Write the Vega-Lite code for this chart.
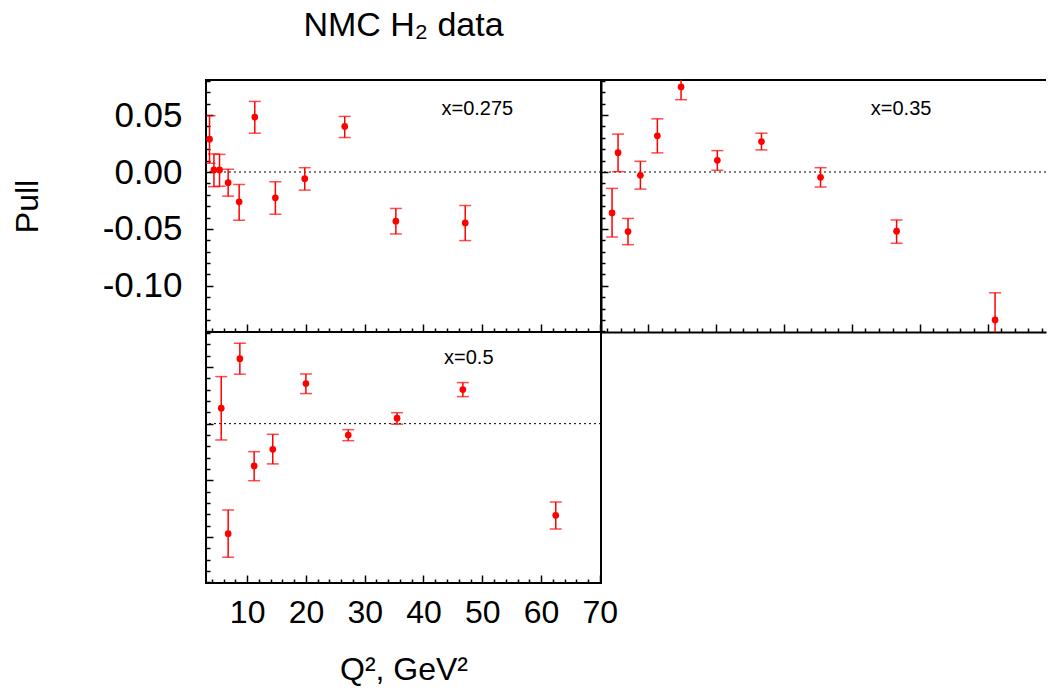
{
  "$schema": "https://vega.github.io/schema/vega-lite/v6.json",
  "background": "white",
  "padding": {"left": 10, "top": 8, "right": 0, "bottom": 0},
  "datasets": {
    "p275": [
      {"Q2": 3.6, "pull": 0.0288, "lo": 0.0077, "hi": 0.0494},
      {"Q2": 4.35, "pull": 0.0018, "lo": -0.0129, "hi": 0.0159},
      {"Q2": 5.3, "pull": 0.0018, "lo": -0.0125, "hi": 0.0155},
      {"Q2": 6.77, "pull": -0.0094, "lo": -0.0212, "hi": 0.0024},
      {"Q2": 8.64, "pull": -0.0262, "lo": -0.0423, "hi": -0.0109},
      {"Q2": 11.3, "pull": 0.0482, "lo": 0.0341, "hi": 0.062},
      {"Q2": 14.8, "pull": -0.0226, "lo": -0.037, "hi": -0.0085},
      {"Q2": 19.8, "pull": -0.0059, "lo": -0.0159, "hi": 0.0038},
      {"Q2": 26.6, "pull": 0.04, "lo": 0.0303, "hi": 0.0488},
      {"Q2": 35.3, "pull": -0.0432, "lo": -0.0544, "hi": -0.032},
      {"Q2": 47.1, "pull": -0.0447, "lo": -0.0602, "hi": -0.0294}
    ],
    "p35": [
      {"Q2": 4.7, "pull": -0.0359, "lo": -0.0571, "hi": -0.0144},
      {"Q2": 5.58, "pull": 0.017, "lo": 0.0003, "hi": 0.0333},
      {"Q2": 7.05, "pull": -0.0523, "lo": -0.0638, "hi": -0.0408},
      {"Q2": 8.87, "pull": -0.0029, "lo": -0.015, "hi": 0.0094},
      {"Q2": 11.37, "pull": 0.0318, "lo": 0.0168, "hi": 0.0467},
      {"Q2": 14.86, "pull": 0.0747, "lo": 0.0635, "hi": 0.0859},
      {"Q2": 20.2, "pull": 0.0103, "lo": 0.0015, "hi": 0.0188},
      {"Q2": 26.7, "pull": 0.0267, "lo": 0.0194, "hi": 0.0341},
      {"Q2": 35.4, "pull": -0.0047, "lo": -0.0132, "hi": 0.0038},
      {"Q2": 46.6, "pull": -0.052, "lo": -0.0626, "hi": -0.0421},
      {"Q2": 61.1, "pull": -0.1299, "lo": -0.1537, "hi": -0.1061}
    ],
    "p5": [
      {"Q2": 5.59, "pull": 0.0136, "lo": -0.0144, "hi": 0.0415},
      {"Q2": 6.77, "pull": -0.097, "lo": -0.1178, "hi": -0.0761},
      {"Q2": 8.76, "pull": 0.0573, "lo": 0.0436, "hi": 0.0709},
      {"Q2": 11.19, "pull": -0.0373, "lo": -0.0503, "hi": -0.0247},
      {"Q2": 14.36, "pull": -0.0226, "lo": -0.0355, "hi": -0.0094},
      {"Q2": 20.0, "pull": 0.0353, "lo": 0.0265, "hi": 0.0438},
      {"Q2": 27.2, "pull": -0.01, "lo": -0.015, "hi": -0.0053},
      {"Q2": 35.5, "pull": 0.0048, "lo": -0.0005, "hi": 0.0097},
      {"Q2": 46.7, "pull": 0.03, "lo": 0.0238, "hi": 0.0362},
      {"Q2": 62.5, "pull": -0.0808, "lo": -0.0929, "hi": -0.0691}
    ],
    "one": [{}]
  },
  "config": {
    "font": "Liberation Sans",
    "view": {"stroke": "black", "strokeWidth": 2},
    "axis": {"grid": false, "domain": false, "tickColor": "black", "tickWidth": 1.5, "tickCount": 200, "labelOverlap": false, "labelBound": false, "labelFlush": false, "labelFont": "Liberation Sans", "titleFont": "Liberation Sans", "labelColor": "black", "titleColor": "black", "titleFontWeight": "normal", "titleFontSize": 32},
    "concat": {"spacing": 0}
  },
  "spacing": 0,
  "bounds": "flush",
  "columns": 2,
  "concat": [
    {
      "width": 395, "height": 252,
      "title": {"text": "NMC H₂ data", "fontSize": 34, "fontWeight": "normal", "anchor": "middle", "color": "black", "offset": 37},
      "data": {"name": "p275"},
      "layer": [
        {"data": {"name": "one"}, "mark": {"type": "rule", "strokeDash": [2, 3], "color": "black", "strokeWidth": 1}, "encoding": {"y": {"datum": 0, "type": "quantitative", "title": "Pull"}}},
        {"mark": {"type": "rule", "color": "#ff0000", "strokeWidth": 1.5, "clip": true}, "encoding": {"x": {"field": "Q2", "type": "quantitative", "title": null}, "y": {"field": "lo", "type": "quantitative", "title": "Pull"}, "y2": {"field": "hi"}}},
        {"mark": {"type": "tick", "orient": "horizontal", "color": "#ff0000", "size": 12, "thickness": 1.5, "clip": true}, "encoding": {"x": {"field": "Q2", "type": "quantitative", "title": null}, "y": {"field": "lo", "type": "quantitative", "title": "Pull"}}},
        {"mark": {"type": "tick", "orient": "horizontal", "color": "#ff0000", "size": 12, "thickness": 1.5, "clip": true}, "encoding": {"x": {"field": "Q2", "type": "quantitative", "title": null}, "y": {"field": "hi", "type": "quantitative", "title": "Pull"}}},
        {"mark": {"type": "circle", "color": "#ff0000", "opacity": 1, "size": 45, "clip": true},
         "encoding": {
           "x": {"field": "Q2", "type": "quantitative", "title": null, "scale": {"domain": [3, 70.2], "nice": false, "zero": false},
                 "axis": {"values": [4,6,8,10,12,14,16,18,20,22,24,26,28,30,32,34,36,38,40,42,44,46,48,50,52,54,56,58,60,62,64,66,68,70], "labels": false, "tickSize": {"condition": {"test": "datum.value % 10 === 0", "value": -8}, "value": -4}}},
           "y": {"field": "pull", "type": "quantitative", "title": "Pull", "scale": {"domain": [-0.1405, 0.0808], "nice": false, "zero": false},
                 "axis": {"values": [-0.14,-0.13,-0.12,-0.11,-0.1,-0.09,-0.08,-0.07,-0.06,-0.05,-0.04,-0.03,-0.02,-0.01,0,0.01,0.02,0.03,0.04,0.05,0.06,0.07,0.08],
                          "tickSize": {"condition": {"test": "abs(round(datum.value*100)) % 5 === 0", "value": -7}, "value": -4},
                          "labelExpr": "abs(round(datum.value*100)) % 5 === 0 ? replace(format(datum.value, '.2f'), '−', '-') : ''",
                          "labelFontSize": {"condition": {"test": "abs(round(datum.value*100)) % 5 === 0", "value": 35}, "value": 0},
                          "labelPadding": 31, "titlePadding": 58}}
         }},
        {"data": {"name": "one"}, "mark": {"type": "text", "align": "left", "baseline": "alphabetic", "fontSize": 20, "color": "black"}, "encoding": {"x": {"datum": 43.06, "type": "quantitative"}, "y": {"datum": 0.0501, "type": "quantitative"}, "text": {"value": "x=0.275"}}}
      ]
    },
    {
      "width": 445, "height": 252,
      "view": {"stroke": null},
      "data": {"name": "p35"},
      "layer": [
        {"data": {"name": "one"}, "mark": {"type": "rule", "strokeDash": [2, 3], "color": "black", "strokeWidth": 1}, "encoding": {"y": {"datum": 0, "type": "quantitative", "title": null}}},
        {"data": {"name": "one"}, "mark": {"type": "rule", "color": "black", "strokeWidth": 2}, "encoding": {"y": {"datum": 0.0808, "type": "quantitative", "title": null}}},
        {"mark": {"type": "rule", "color": "#ff0000", "strokeWidth": 1.5, "clip": true}, "encoding": {"x": {"field": "Q2", "type": "quantitative", "title": null}, "y": {"field": "lo", "type": "quantitative", "title": null}, "y2": {"field": "hi"}}},
        {"mark": {"type": "tick", "orient": "horizontal", "color": "#ff0000", "size": 12, "thickness": 1.5, "clip": true}, "encoding": {"x": {"field": "Q2", "type": "quantitative", "title": null}, "y": {"field": "lo", "type": "quantitative", "title": null}}},
        {"mark": {"type": "tick", "orient": "horizontal", "color": "#ff0000", "size": 12, "thickness": 1.5, "clip": true}, "encoding": {"x": {"field": "Q2", "type": "quantitative", "title": null}, "y": {"field": "hi", "type": "quantitative", "title": null}}},
        {"mark": {"type": "circle", "color": "#ff0000", "opacity": 1, "size": 45, "clip": true},
         "encoding": {
           "x": {"field": "Q2", "type": "quantitative", "title": null, "scale": {"domain": [3.07, 68.6], "nice": false, "zero": false},
                 "axis": {"values": [4,6,8,10,12,14,16,18,20,22,24,26,28,30,32,34,36,38,40,42,44,46,48,50,52,54,56,58,60,62,64,66,68], "labels": false, "domain": true, "domainColor": "black", "domainWidth": 2, "tickSize": {"condition": {"test": "datum.value % 10 === 0", "value": -8}, "value": -4}}},
           "y": {"field": "pull", "type": "quantitative", "title": null, "scale": {"domain": [-0.1405, 0.0808], "nice": false, "zero": false},
                 "axis": {"values": [-0.14,-0.13,-0.12,-0.11,-0.1,-0.09,-0.08,-0.07,-0.06,-0.05,-0.04,-0.03,-0.02,-0.01,0,0.01,0.02,0.03,0.04,0.05,0.06,0.07,0.08],
                          "tickSize": {"condition": {"test": "abs(round(datum.value*100)) % 5 === 0", "value": -7}, "value": -4},
                          "labels": false, "domain": true, "domainColor": "black", "domainWidth": 2}}
         }},
        {"data": {"name": "one"}, "mark": {"type": "text", "align": "left", "baseline": "alphabetic", "fontSize": 20, "color": "black"}, "encoding": {"x": {"datum": 42.8, "type": "quantitative"}, "y": {"datum": 0.0501, "type": "quantitative"}, "text": {"value": "x=0.35"}}}
      ]
    },
    {
      "width": 395, "height": 251,
      "data": {"name": "p5"},
      "layer": [
        {"data": {"name": "one"}, "mark": {"type": "rule", "strokeDash": [2, 3], "color": "black", "strokeWidth": 1}, "encoding": {"y": {"datum": 0, "type": "quantitative", "title": null}}},
        {"mark": {"type": "rule", "color": "#ff0000", "strokeWidth": 1.5, "clip": true}, "encoding": {"x": {"field": "Q2", "type": "quantitative", "title": "Q², GeV²"}, "y": {"field": "lo", "type": "quantitative", "title": null}, "y2": {"field": "hi"}}},
        {"mark": {"type": "tick", "orient": "horizontal", "color": "#ff0000", "size": 12, "thickness": 1.5, "clip": true}, "encoding": {"x": {"field": "Q2", "type": "quantitative", "title": "Q², GeV²"}, "y": {"field": "lo", "type": "quantitative", "title": null}}},
        {"mark": {"type": "tick", "orient": "horizontal", "color": "#ff0000", "size": 12, "thickness": 1.5, "clip": true}, "encoding": {"x": {"field": "Q2", "type": "quantitative", "title": "Q², GeV²"}, "y": {"field": "hi", "type": "quantitative", "title": null}}},
        {"mark": {"type": "circle", "color": "#ff0000", "opacity": 1, "size": 45, "clip": true},
         "encoding": {
           "x": {"field": "Q2", "type": "quantitative", "title": "Q², GeV²", "scale": {"domain": [3, 70.2], "nice": false, "zero": false},
                 "axis": {"values": [4,6,8,10,12,14,16,18,20,22,24,26,28,30,32,34,36,38,40,42,44,46,48,50,52,54,56,58,60,62,64,66,68,70],
                          "tickSize": {"condition": {"test": "datum.value % 10 === 0", "value": -8}, "value": -4},
                          "labelExpr": "datum.value % 10 === 0 ? format(datum.value, 'd') : ''",
                          "labelFontSize": {"condition": {"test": "datum.value % 10 === 0", "value": 32}, "value": 0},
                          "labelPadding": 22, "titlePadding": 26}},
           "y": {"field": "pull", "type": "quantitative", "title": null, "scale": {"domain": [-0.1405, 0.0808], "nice": false, "zero": false},
                 "axis": {"values": [-0.14,-0.13,-0.12,-0.11,-0.1,-0.09,-0.08,-0.07,-0.06,-0.05,-0.04,-0.03,-0.02,-0.01,0,0.01,0.02,0.03,0.04,0.05,0.06,0.07,0.08],
                          "tickSize": {"condition": {"test": "abs(round(datum.value*100)) % 5 === 0", "value": -7}, "value": -4},
                          "labels": false}}
         }},
        {"data": {"name": "one"}, "mark": {"type": "text", "align": "left", "baseline": "alphabetic", "fontSize": 20, "color": "black"}, "encoding": {"x": {"datum": 43.5, "type": "quantitative"}, "y": {"datum": 0.0526, "type": "quantitative"}, "text": {"value": "x=0.5"}}}
      ]
    }
  ]
}
